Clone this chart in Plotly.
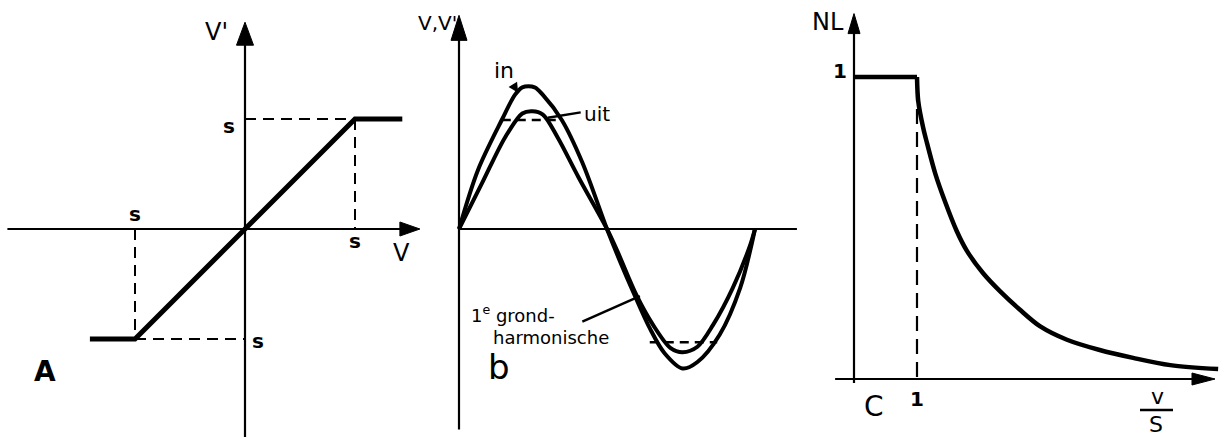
import plotly.graph_objects as go

W, H = 1225, 439

# ---- panel A: limiter transfer characteristic (V and V' in units of s) ----
lim_v = [-1.41, -1.0, 1.0, 1.43]
lim_vout = [-1.0, -1.0, 1.0, 1.0]

# ---- panel b: one period of the input, phase in degrees ----
in_phase = [0, 23, 52, 68, 77, 92, 102, 125, 150, 180,
            196, 212, 232, 250, 272, 290, 317, 342, 360]
in_val = [0, 0.54, 1.00, 1.23, 1.30, 1.30, 1.23, 1.00, 0.61, 0,
          -0.30, -0.58, -0.91, -1.14, -1.28, -1.22, -0.97, -0.54, 0]
# first harmonic of the clipped output
fund_phase = [0, 28, 56, 77, 89, 102, 120, 145, 180,
              193, 216, 236, 257, 272, 290, 309, 333, 354, 360]
fund_val = [0, 0.42, 0.84, 1.06, 1.08, 1.05, 0.84, 0.48, 0,
            -0.21, -0.61, -0.88, -1.09, -1.13, -1.08, -0.88, -0.54, -0.15, 0]
# flat (clipped) parts of the output
clip_top_phase = [52, 120]
clip_top_val = [1.0, 1.0]
clip_bot_phase = [232, 314]
clip_bot_val = [-1.04, -1.04]

# ---- panel C: describing function NL versus v/s ----
nl_flat_x = [0, 1.0]
nl_flat_y = [1.0, 1.0]
nl_x = [1.00, 1.02, 1.10, 1.16, 1.29, 1.44, 1.63, 1.79, 2.05, 2.32,
        2.63, 2.95, 3.38, 3.90, 4.43, 5.02, 5.78]
nl_y = [1.00, 0.92, 0.83, 0.78, 0.68, 0.59, 0.49, 0.425, 0.35, 0.29,
        0.23, 0.175, 0.13, 0.096, 0.07, 0.046, 0.033]

# pixel placement of each panel: origin (px) and pixels per data unit
panels = {
    "A": dict(ax="", xo=245, xs=110, yo=229, ys=110, px0=0, px1=420),
    "b": dict(ax="2", xo=459, xs=296 / 360, yo=229, ys=109, px0=420, px1=820),
    "C": dict(ax="3", xo=854, xs=63, yo=379, ys=302, px0=820, px1=1225),
}

INK = "#000000"
FONT = "DejaVu Sans"

fig = go.Figure()


def refs(p):
    return "x" + p["ax"], "y" + p["ax"]


def add_line(p, xs, ys, width, dash="solid", shape="linear"):
    xr, yr = refs(p)
    fig.add_trace(go.Scatter(
        x=xs, y=ys, mode="lines", xaxis=xr, yaxis=yr,
        line=dict(color=INK, width=width, dash=dash, shape=shape, smoothing=0.9),
        hoverinfo="skip", showlegend=False))


def arrow_up(p, x, y_tip, length, width):
    dx = width / 2 / p["xs"]
    dy = length / p["ys"]
    xr, yr = refs(p)
    fig.add_trace(go.Scatter(
        x=[x - dx, x, x + dx, x - dx], y=[y_tip - dy, y_tip, y_tip - dy, y_tip - dy],
        mode="lines", fill="toself", fillcolor=INK, line=dict(color=INK, width=1),
        xaxis=xr, yaxis=yr, hoverinfo="skip", showlegend=False))


def arrow_right(p, x_tip, y, length, width):
    dx = length / p["xs"]
    dy = width / 2 / p["ys"]
    xr, yr = refs(p)
    fig.add_trace(go.Scatter(
        x=[x_tip - dx, x_tip, x_tip - dx, x_tip - dx], y=[y + dy, y, y - dy, y + dy],
        mode="lines", fill="toself", fillcolor=INK, line=dict(color=INK, width=1),
        xaxis=xr, yaxis=yr, hoverinfo="skip", showlegend=False))


def label(p, x, y, text, size, xshift=0, yshift=0):
    xr, yr = refs(p)
    fig.add_annotation(x=x, y=y, xref=xr, yref=yr, text=text, showarrow=False,
                       xshift=xshift, yshift=yshift,
                       xanchor="center", yanchor="middle",
                       font=dict(family=FONT, size=size, color=INK))


def note(px, py, text, size):
    fig.add_annotation(x=px / W, y=1 - py / H, xref="paper", yref="paper",
                       text=text, showarrow=False,
                       xanchor="center", yanchor="middle",
                       font=dict(family=FONT, size=size, color=INK))


def leader(p, x0, y0, x1, y1, width=2.5):
    xr, yr = refs(p)
    fig.add_shape(type="line", xref=xr, yref=yr, x0=x0, y0=y0, x1=x1, y1=y1,
                  line=dict(color=INK, width=width))


DASH = "11px,7px"

# ---------------- panel A ----------------
pA = panels["A"]
add_line(pA, [-2.16, 1.45], [0, 0], 2.2)
arrow_right(pA, 1.59, 0, 20, 14)
add_line(pA, [0, 0], [-1.89, 1.7], 2.2)
arrow_up(pA, 0, 1.88, 23, 17)
add_line(pA, [0, 1], [1, 1], 2, DASH)
add_line(pA, [1, 1], [1, 0], 2, DASH)
add_line(pA, [-1, -1], [0, -1], 2, DASH)
add_line(pA, [-1, 0], [-1, -1], 2, DASH)
add_line(pA, lim_v, lim_vout, 5)
label(pA, 0, 1, "<b>s</b>", 20, xshift=-16, yshift=-7)
label(pA, -1, 0, "<b>s</b>", 20, yshift=15)
label(pA, 1, 0, "<b>s</b>", 20, yshift=-12)
label(pA, 0, -1, "<b>s</b>", 20, xshift=13, yshift=-2)
note(401, 253, "V", 24)
note(217, 32, "V'", 24)
note(45, 371, "<b>A</b>", 28)

# ---------------- panel b ----------------
pb = panels["b"]
add_line(pb, [0, 411], [0, 0], 2.2)
add_line(pb, [0, 0], [-1.84, 1.75], 2.2)
arrow_up(pb, 0, 1.96, 25, 16)
add_line(pb, in_phase, in_val, 4, shape="spline")
add_line(pb, fund_phase, fund_val, 4, shape="spline")
add_line(pb, clip_top_phase, clip_top_val, 2.5, "9px,6px")
add_line(pb, clip_bot_phase, clip_bot_val, 2.5, "9px,6px")
note(437, 23, "V,V'", 20)
xr, yr = refs(pb)
fig.add_annotation(x=72, y=1.25, xref=xr, yref=yr, text="in", showarrow=True,
                   ax=-14, ay=-22, arrowhead=2, arrowsize=1, arrowwidth=2,
                   arrowcolor=INK, standoff=0, font=dict(family=FONT, size=22, color=INK))
note(597, 114, "uit", 20)
leader(pb, 108, 1.02, 148, 1.07)
leader(pb, 150, -0.85, 220, -0.615)
note(513, 314, "1<sup>e</sup> grond-", 18)
note(551, 337, "harmonische", 18)
note(499, 367, "b", 34)

# ---------------- panel C ----------------
pC = panels["C"]
add_line(pC, [-0.30, 5.40], [0, 0], 2.2)
arrow_right(pC, 5.73, 0, 23, 12)
add_line(pC, [0, 0], [-0.013, 1.15], 2.2)
arrow_up(pC, 0, 1.21, 20, 12)
add_line(pC, [1, 1], [0.97, 0], 2.2, "15px,8px")
add_line(pC, nl_flat_x, nl_flat_y, 4.5)
add_line(pC, nl_x, nl_y, 4.5, shape="spline")
label(pC, 0, 1, "<b>1</b>", 20, xshift=-14, yshift=6)
label(pC, 1, 0, "<b>1</b>", 20, yshift=-20)
note(828, 22, "NL", 24)
note(874, 406, "C", 28)
note(1157, 396, "v", 22)
note(1156, 424, "S", 22)
fig.add_shape(type="line", xref="paper", yref="paper",
              x0=1140 / W, x1=1173 / W, y0=1 - 410 / H, y1=1 - 410 / H,
              line=dict(color=INK, width=2.5))

# ---------------- axes / layout ----------------
layout_axes = {}
for p in panels.values():
    xkey = "xaxis" + p["ax"]
    ykey = "yaxis" + p["ax"]
    layout_axes[xkey] = dict(
        domain=[p["px0"] / W, p["px1"] / W],
        range=[(p["px0"] - p["xo"]) / p["xs"], (p["px1"] - p["xo"]) / p["xs"]],
        visible=False, fixedrange=True, anchor="y" + p["ax"])
    layout_axes[ykey] = dict(
        domain=[0, 1],
        range=[(p["yo"] - H) / p["ys"], p["yo"] / p["ys"]],
        visible=False, fixedrange=True, anchor="x" + p["ax"])

fig.update_layout(
    width=W, height=H, autosize=False,
    margin=dict(l=0, r=0, t=0, b=0, pad=0),
    paper_bgcolor="white", plot_bgcolor="rgba(0,0,0,0)",
    showlegend=False,
    **layout_axes)

fig.write_html("out.html", config={"displayModeBar": False})
